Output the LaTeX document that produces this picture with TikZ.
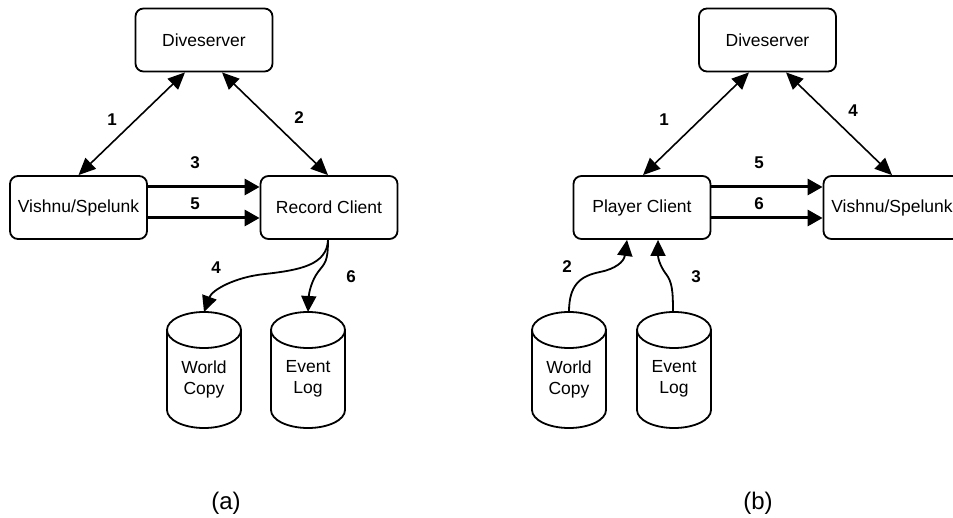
\documentclass[tikz,border=0pt]{standalone}
\usepackage{fontspec}
\setmainfont{Liberation Sans}
\usetikzlibrary{arrows.meta}

% draws a storage cylinder centred on x, spanning y0 (top) to y1 (bottom)
\newcommand\storecyl[3]{%
  \draw[cylline] (#1-37,#2+18) -- (#1-37,#3-18)
    arc[start angle=180,end angle=360,x radius=37pt,y radius=18pt]
    -- (#1+37,#2+18)
    arc[start angle=0,end angle=360,x radius=37pt,y radius=18pt];
}

\begin{document}
\begin{tikzpicture}[x=1pt,y=-1pt,
  every node/.style={font=\fontsize{17.5}{20}\selectfont},
  procbox/.style={draw,line width=1.8pt,rounded corners=8pt,minimum width=137pt,minimum height=63pt,inner sep=0pt},
  celltext/.style={align=center,inner sep=0pt,font=\fontsize{17.5}{21}\selectfont},
  cylline/.style={line width=1.8pt},
  numlabel/.style={font=\bfseries\fontsize{17}{19}\selectfont},
  caption/.style={font=\fontsize{24}{28}\selectfont},
  biarrow/.style={line width=1.6pt,{Triangle[length=17pt,width=15pt]}-{Triangle[length=17pt,width=15pt]}},
  flowarrow/.style={line width=3pt,-{Triangle[length=15pt,width=16pt]}},
  curvearrow/.style={line width=1.8pt,-{Triangle[length=16pt,width=15pt]}}
]
\useasboundingbox (0,0) rectangle (953,518);
\clip (0,0) rectangle (953,518);

% ---------- panel (a): recording ----------
\node[procbox] (dsA) at (204,40) {Diveserver};
\node[procbox] (vsA) at (78.5,207.5) {Vishnu/Spelunk};
\node[procbox] (rcA) at (329,207.5) {Record Client};

\storecyl{204}{312}{428}
\storecyl{308}{312}{428}
\node[celltext] (wcA) at (204,379) {World\\Copy};
\node[celltext] (elA) at (308,379) {Event\\Log};
\coordinate (wcAtop) at (204,312);
\coordinate (elAtop) at (308,312);

\draw[biarrow] ([xshift=-19pt]dsA.south) -- (vsA.north);
\draw[biarrow] ([xshift=18pt]dsA.south) -- ([xshift=-1pt]rcA.north);
\draw[flowarrow] ([yshift=20.5pt]vsA.east) -- ([yshift=20.5pt]rcA.west);
\draw[flowarrow] ([yshift=-10.5pt]vsA.east) -- ([yshift=-10.5pt]rcA.west);
\draw[curvearrow] ([xshift=-1pt]rcA.south) .. controls (327,265) and (300,270) .. (265,274)
  .. controls (235,277) and (212,290) .. (wcAtop);
\draw[curvearrow] ([xshift=-1pt]rcA.south) .. controls (328,262) and (325,263) .. (318,272)
  .. controls (312,280) and (309,292) .. (elAtop);

\node[numlabel] at (112,120) {1};
\node[numlabel] at (299,118) {2};
\node[numlabel] at (195,163) {3};
\node[numlabel] at (195,204) {5};
\node[numlabel] at (216,268) {4};
\node[numlabel] at (351,277) {6};
\node[caption] at (226,503) {(a)};

% ---------- panel (b): playback ----------
\node[procbox] (dsB) at (767.5,40) {Diveserver};
\node[procbox] (pcB) at (642,207.5) {Player Client};
\node[procbox] (vsB) at (892,207.5) {Vishnu/Spelunk};

\storecyl{569}{312}{428}
\storecyl{674}{312}{428}
\node[celltext] (wcB) at (569,379) {World\\Copy};
\node[celltext] (elB) at (674,379) {Event\\Log};
\coordinate (wcBtop) at (569,312);
\coordinate (elBtop) at (673,312);

\draw[biarrow] ([xshift=-18.5pt]dsB.south) -- ([xshift=1pt]pcB.north);
\draw[biarrow] ([xshift=18.5pt]dsB.south) -- (vsB.north);
\draw[flowarrow] ([yshift=20.5pt]pcB.east) -- ([yshift=20.5pt]vsB.west);
\draw[flowarrow] ([yshift=-10.5pt]pcB.east) -- ([yshift=-10.5pt]vsB.west);
\draw[curvearrow] (wcBtop) .. controls (569,285) and (580,276) .. (600,272)
  .. controls (615,269) and (624,262) .. ([xshift=-15pt]pcB.south);
\draw[curvearrow] (elBtop) .. controls (673,290) and (672,282) .. (666,274)
  .. controls (660,266) and (658,258) .. ([xshift=16pt]pcB.south);

\node[numlabel] at (664,120) {1};
\node[numlabel] at (853,111) {4};
\node[numlabel] at (759,163) {5};
\node[numlabel] at (759,204) {6};
\node[numlabel] at (567,267) {2};
\node[numlabel] at (696,277) {3};
\node[caption] at (758,503) {(b)};
\end{tikzpicture}
\end{document}
